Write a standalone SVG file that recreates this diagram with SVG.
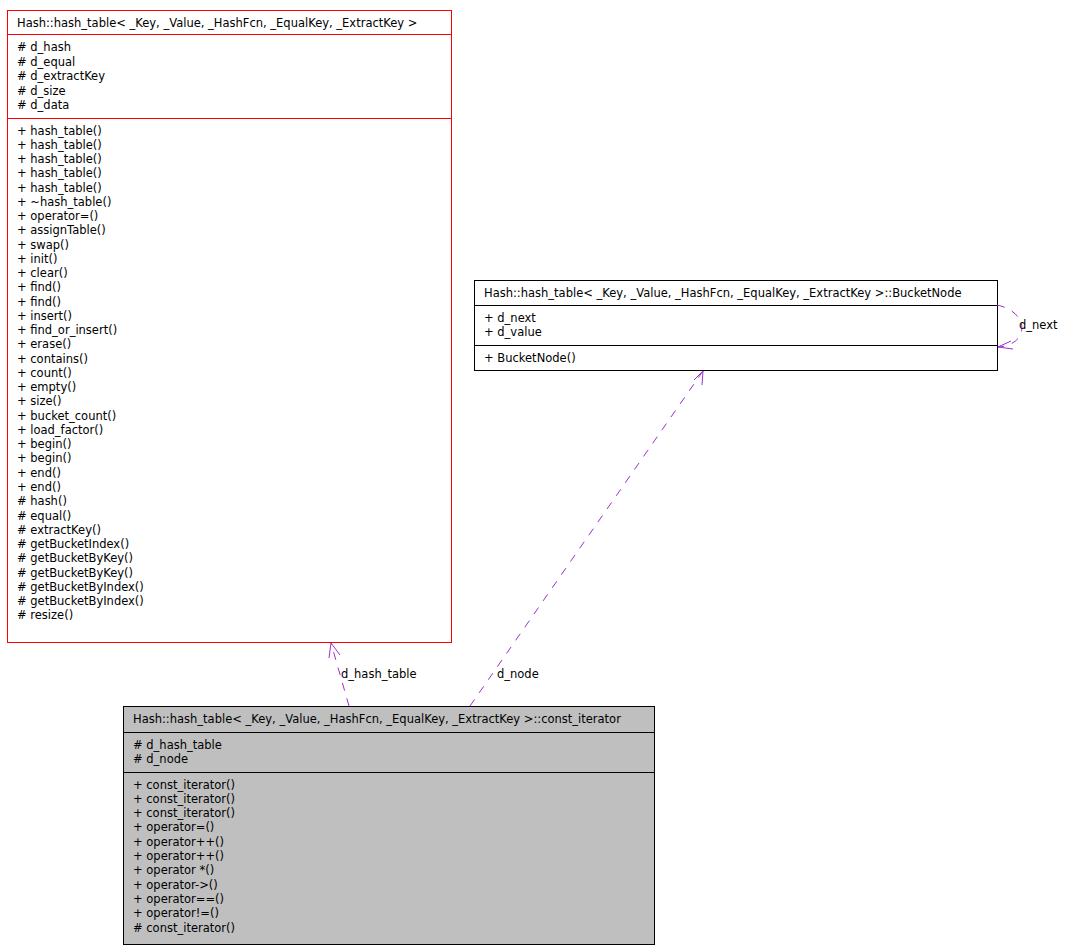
<svg xmlns="http://www.w3.org/2000/svg" width="1069" height="951" viewBox="0 0 1069 951">
<style>
text{font-family:"DejaVu Sans","Liberation Sans",sans-serif;font-size:11.5px;fill:#000}
.r{fill:#fff;stroke:#f00;stroke-width:1}
.b{fill:#fff;stroke:#000;stroke-width:1}
.g{fill:#bfbfbf;stroke:#000;stroke-width:1}
.e{fill:none;stroke:#9a32cd;stroke-width:1;stroke-dasharray:8,8}
.ah{fill:none;stroke:#9a32cd;stroke-width:1}
</style>
<rect width="1069" height="951" fill="#fff"/>
<g id="hash_table">
<rect class="r" x="7.5" y="10.5" width="444" height="632"/>
<line class="r" x1="7.5" y1="34.5" x2="451.5" y2="34.5"/>
<line class="r" x1="7.5" y1="118.5" x2="451.5" y2="118.5"/>
<text x="17" y="27">Hash::hash_table&lt; _Key, _Value, _HashFcn, _EqualKey, _ExtractKey &gt;</text>
<text x="17" y="51">
<tspan x="17" dy="0"># d_hash</tspan><tspan x="17" dy="14.6"># d_equal</tspan><tspan x="17" dy="14.6"># d_extractKey</tspan><tspan x="17" dy="14.6"># d_size</tspan><tspan x="17" dy="14.6"># d_data</tspan></text>
<text x="17" y="134.5">
<tspan x="17" dy="0">+ hash_table()</tspan><tspan x="17" dy="14.26">+ hash_table()</tspan><tspan x="17" dy="14.26">+ hash_table()</tspan><tspan x="17" dy="14.26">+ hash_table()</tspan><tspan x="17" dy="14.26">+ hash_table()</tspan><tspan x="17" dy="14.26">+ ~hash_table()</tspan><tspan x="17" dy="14.26">+ operator=()</tspan><tspan x="17" dy="14.26">+ assignTable()</tspan><tspan x="17" dy="14.26">+ swap()</tspan><tspan x="17" dy="14.26">+ init()</tspan><tspan x="17" dy="14.26">+ clear()</tspan><tspan x="17" dy="14.26">+ find()</tspan><tspan x="17" dy="14.26">+ find()</tspan><tspan x="17" dy="14.26">+ insert()</tspan><tspan x="17" dy="14.26">+ find_or_insert()</tspan><tspan x="17" dy="14.26">+ erase()</tspan><tspan x="17" dy="14.26">+ contains()</tspan><tspan x="17" dy="14.26">+ count()</tspan><tspan x="17" dy="14.26">+ empty()</tspan><tspan x="17" dy="14.26">+ size()</tspan><tspan x="17" dy="14.26">+ bucket_count()</tspan><tspan x="17" dy="14.26">+ load_factor()</tspan><tspan x="17" dy="14.26">+ begin()</tspan><tspan x="17" dy="14.26">+ begin()</tspan><tspan x="17" dy="14.26">+ end()</tspan><tspan x="17" dy="14.26">+ end()</tspan><tspan x="17" dy="14.26"># hash()</tspan><tspan x="17" dy="14.26"># equal()</tspan><tspan x="17" dy="14.26"># extractKey()</tspan><tspan x="17" dy="14.26"># getBucketIndex()</tspan><tspan x="17" dy="14.26"># getBucketByKey()</tspan><tspan x="17" dy="14.26"># getBucketByKey()</tspan><tspan x="17" dy="14.26"># getBucketByIndex()</tspan><tspan x="17" dy="14.26"># getBucketByIndex()</tspan><tspan x="17" dy="14.26"># resize()</tspan></text>
</g>
<g id="BucketNode">
<rect class="b" x="474.5" y="280.5" width="523" height="90"/>
<line class="b" x1="474.5" y1="305.5" x2="997.5" y2="305.5"/>
<line class="b" x1="474.5" y1="345.5" x2="997.5" y2="345.5"/>
<text x="484" y="297">Hash::hash_table&lt; _Key, _Value, _HashFcn, _EqualKey, _ExtractKey &gt;::BucketNode</text>
<text x="484" y="321.5">+ d_next</text>
<text x="484" y="336">+ d_value</text>
<text x="484" y="361.5">+ BucketNode()</text>
</g>
<g id="const_iterator">
<rect class="g" x="123.5" y="706.5" width="531" height="238"/>
<line class="g" x1="123.5" y1="732.5" x2="654.5" y2="732.5"/>
<line class="g" x1="123.5" y1="772.5" x2="654.5" y2="772.5"/>
<text x="133" y="723">Hash::hash_table&lt; _Key, _Value, _HashFcn, _EqualKey, _ExtractKey &gt;::const_iterator</text>
<text x="133" y="748.5">
<tspan x="133" dy="0"># d_hash_table</tspan><tspan x="133" dy="14.6"># d_node</tspan></text>
<text x="133" y="788.5">
<tspan x="133" dy="0">+ const_iterator()</tspan><tspan x="133" dy="14.3">+ const_iterator()</tspan><tspan x="133" dy="14.3">+ const_iterator()</tspan><tspan x="133" dy="14.3">+ operator=()</tspan><tspan x="133" dy="14.3">+ operator++()</tspan><tspan x="133" dy="14.3">+ operator++()</tspan><tspan x="133" dy="14.3">+ operator *()</tspan><tspan x="133" dy="14.3">+ operator-&gt;()</tspan><tspan x="133" dy="14.3">+ operator==()</tspan><tspan x="133" dy="14.3">+ operator!=()</tspan><tspan x="133" dy="14.3"># const_iterator()</tspan></text>
</g>
<g id="connectors">
<path class="e" d="M349,706 L331,643"/>
<path class="ah" d="M329,658 L331,643 L340,655"/>
<text x="341" y="678">d_hash_table</text>
<path class="e" d="M470,706 L703,371"/>
<path class="ah" d="M694,380 L703,371 L702,385"/>
<text x="497" y="678">d_node</text>
<path class="e" d="M997,305 C1030,312 1030,345 998,347"/>
<path class="ah" d="M1011,341 L998,347 L1013,349"/>
<text x="1019" y="329">d_next</text>
</g>
</svg>
